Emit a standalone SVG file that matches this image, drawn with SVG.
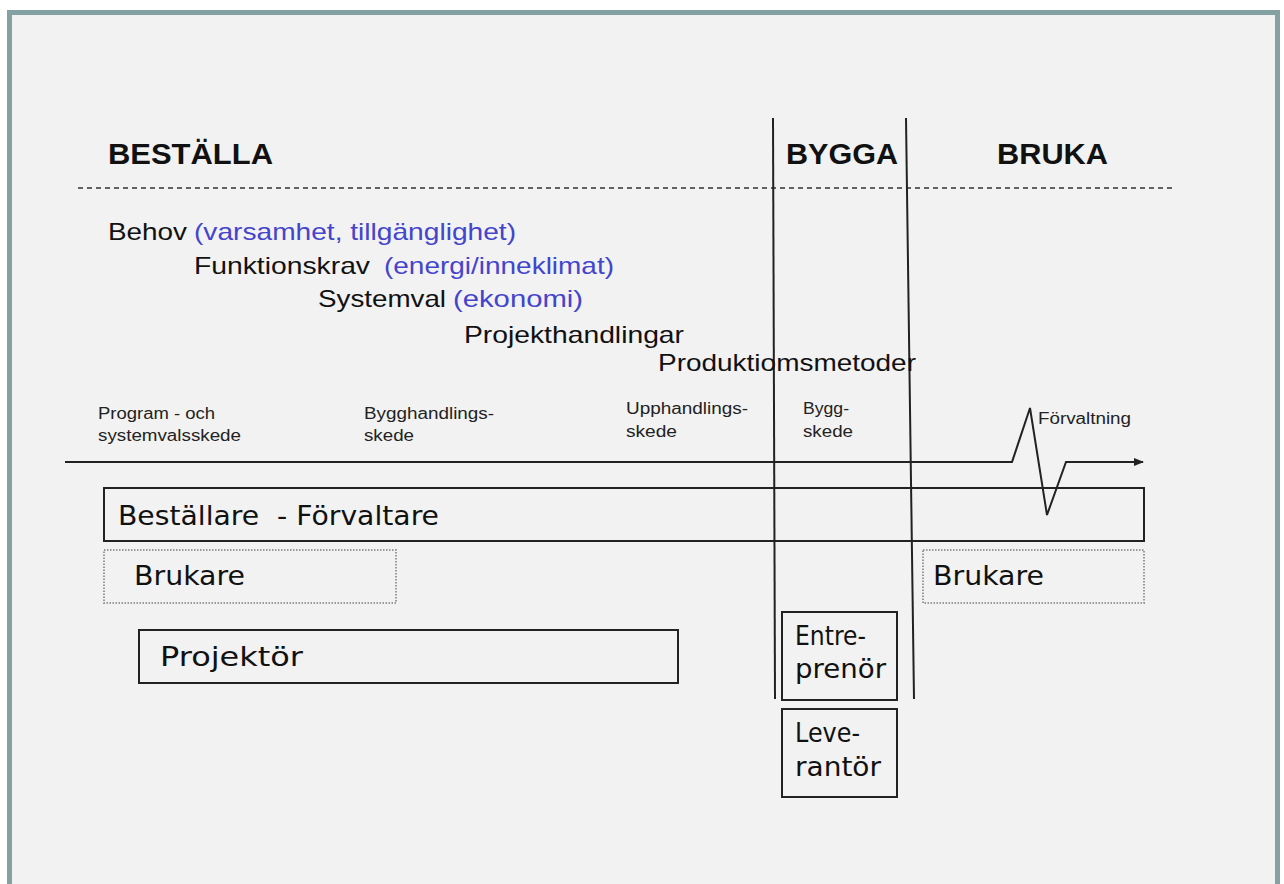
<svg xmlns="http://www.w3.org/2000/svg" width="1284" height="884" viewBox="0 0 1284 884">
<style>
.h{font-family:"Liberation Sans",Arial,sans-serif;font-weight:bold;font-size:29px;fill:#111}
.t{font-family:"Liberation Sans",Arial,sans-serif;font-size:24px;fill:#111}
.b{fill:#4444cc}
.s{font-family:"Liberation Sans",Arial,sans-serif;font-size:16px;fill:#222}
.n{font-family:"DejaVu Sans",Verdana,sans-serif;font-size:27px;fill:#111}
.box{fill:none;stroke:#222;stroke-width:2}
.dot{fill:none;stroke:#999;stroke-width:2;stroke-dasharray:1.5 1.5}
.ln{stroke:#222;stroke-width:2;fill:none}
</style>
<defs>
<marker id="ah" markerWidth="10" markerHeight="8" refX="9" refY="4" orient="auto" markerUnits="userSpaceOnUse">
<path d="M0,0 L10,4 L0,8 Z" fill="#222"/>
</marker>
</defs>
<rect x="0" y="0" width="1284" height="884" fill="#ffffff"/>
<rect x="9.5" y="12.5" width="1268" height="880" fill="#f2f2f2" stroke="#85a2a2" stroke-width="5"/>

<g id="headers">
<text class="h" x="108" y="164" textLength="165" lengthAdjust="spacingAndGlyphs">BESTÄLLA</text>
<text class="h" x="786" y="164" textLength="112" lengthAdjust="spacingAndGlyphs">BYGGA</text>
<text class="h" x="997" y="164" textLength="111" lengthAdjust="spacingAndGlyphs">BRUKA</text>
</g>

<g id="connectors">
<line x1="78" y1="188" x2="1174" y2="188" stroke="#333" stroke-width="1.6" stroke-dasharray="5 4"/>
<line class="ln" x1="773" y1="118" x2="775" y2="699"/>
<line class="ln" x1="906" y1="118" x2="914" y2="699"/>
<polyline class="ln" points="65,462 1012,462 1030,408 1047,515 1066,462 1143,462" marker-end="url(#ah)"/>
</g>

<g id="requirements">
<text class="t" x="108" y="240" textLength="79" lengthAdjust="spacingAndGlyphs">Behov</text>
<text class="t b" x="194" y="240" textLength="322" lengthAdjust="spacingAndGlyphs">(varsamhet, tillgänglighet)</text>
<text class="t" x="194" y="274" textLength="176" lengthAdjust="spacingAndGlyphs">Funktionskrav</text>
<text class="t b" x="384" y="274" textLength="230" lengthAdjust="spacingAndGlyphs">(energi/inneklimat)</text>
<text class="t" x="318" y="307" textLength="128" lengthAdjust="spacingAndGlyphs">Systemval</text>
<text class="t b" x="453" y="307" textLength="130" lengthAdjust="spacingAndGlyphs">(ekonomi)</text>
<text class="t" x="464" y="343" textLength="220" lengthAdjust="spacingAndGlyphs">Projekthandlingar</text>
<text class="t" x="658" y="371" textLength="258" lengthAdjust="spacingAndGlyphs">Produktiomsmetoder</text>
</g>

<g id="stages">
<text class="s" x="98" y="419" textLength="117" lengthAdjust="spacingAndGlyphs">Program - och</text>
<text class="s" x="98" y="441" textLength="143" lengthAdjust="spacingAndGlyphs">systemvalsskede</text>
<text class="s" x="364" y="419" textLength="130" lengthAdjust="spacingAndGlyphs">Bygghandlings-</text>
<text class="s" x="364" y="441" textLength="50" lengthAdjust="spacingAndGlyphs">skede</text>
<text class="s" x="626" y="414" textLength="122" lengthAdjust="spacingAndGlyphs">Upphandlings-</text>
<text class="s" x="626" y="437" textLength="51" lengthAdjust="spacingAndGlyphs">skede</text>
<text class="s" x="803" y="414" textLength="46" lengthAdjust="spacingAndGlyphs">Bygg-</text>
<text class="s" x="803" y="437" textLength="50" lengthAdjust="spacingAndGlyphs">skede</text>
<text class="s" x="1038" y="424" textLength="93" lengthAdjust="spacingAndGlyphs">Förvaltning</text>
</g>

<g id="bestallare">
<rect class="box" x="104" y="488" width="1040" height="53"/>
<text class="n" x="118" y="525" textLength="321" lengthAdjust="spacingAndGlyphs" xml:space="preserve">Beställare  - Förvaltare</text>
</g>
<g id="brukare-left">
<rect class="dot" x="104" y="550" width="292" height="53"/>
<text class="n" x="134" y="585" textLength="111" lengthAdjust="spacingAndGlyphs">Brukare</text>
</g>
<g id="brukare-right">
<rect class="dot" x="923" y="550" width="221" height="53"/>
<text class="n" x="933" y="585" textLength="111" lengthAdjust="spacingAndGlyphs">Brukare</text>
</g>
<g id="projektor">
<rect class="box" x="139" y="630" width="539" height="53"/>
<text class="n" x="160" y="666" textLength="143" lengthAdjust="spacingAndGlyphs">Projektör</text>
</g>
<g id="entreprenor">
<rect class="box" x="782" y="612" width="115" height="88"/>
<text class="n" x="795" y="645" textLength="71" lengthAdjust="spacingAndGlyphs">Entre-</text>
<text class="n" x="795" y="678" textLength="91" lengthAdjust="spacingAndGlyphs">prenör</text>
</g>
<g id="leverantor">
<rect class="box" x="782" y="709" width="115" height="88"/>
<text class="n" x="795" y="742" textLength="65" lengthAdjust="spacingAndGlyphs">Leve-</text>
<text class="n" x="795" y="776" textLength="86" lengthAdjust="spacingAndGlyphs">rantör</text>
</g>
</svg>
